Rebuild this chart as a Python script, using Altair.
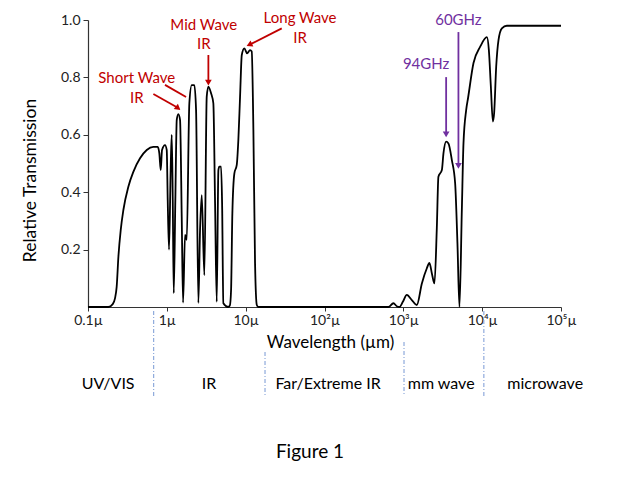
import altair as alt
import pandas as pd
import math

# ---- transmission curve (wavelength in µm, relative transmission) ----
wl = [0.1, 0.181, 0.206, 0.220, 0.231, 0.243, 0.260, 0.281, 0.325, 0.376, 0.457, 0.556,
      0.674, 0.767, 0.803, 0.837, 0.869, 0.948, 0.997, 1.026, 1.066, 1.120, 1.154, 1.189,
      1.224, 1.282, 1.336, 1.399, 1.471, 1.545, 1.606, 1.702, 1.789, 1.930, 2.070, 2.233,
      2.349, 2.512, 2.638, 2.773, 2.992, 3.207, 3.365, 3.640, 3.890, 4.091, 4.295, 4.508,
      4.634, 4.875, 5.023, 5.212, 5.98, 6.30, 6.53, 6.78, 7.19, 7.71, 8.07, 8.49, 8.93,
      9.62, 10.42, 11.37, 11.94, 12.53, 13.15, 13.84, 14.49,
      647, 748, 841, 892, 986, 1107, 1282, 1483, 1718, 1987, 2143, 2301, 2483, 2661, 2786,
      3081, 3228, 3491, 3734, 4126, 4541, 4860, 5152, 5523, 5794, 6266, 6637, 7762, 9441,
      11480, 12160, 12880, 13670, 14190, 15060, 16110, 17780, 20560, 100000]
tr = [0, 0, 0.01, 0.03, 0.07, 0.175, 0.268, 0.338, 0.419, 0.471, 0.518, 0.547,
      0.558, 0.558, 0.535, 0.477, 0.547, 0.564, 0.547, 0.373, 0.2, 0.488, 0.6, 0.373,
      0.048, 0.373, 0.652, 0.672, 0.652, 0.314, 0.015, 0.251, 0.234, 0.71, 0.773, 0.773,
      0.686, 0.014, 0.268, 0.39, 0.111, 0.733, 0.768, 0.745, 0.71, 0.362, 0.018, 0.477,
      0.489, 0.489, 0.362, 0.013, 0, 0.005, 0.059, 0.327, 0.466, 0.495, 0.58, 0.733, 0.878,
      0.901, 0.884, 0.895, 0.89, 0.617, 0.153, 0.007, 0,
      0, 0.013, 0.001, 0, 0.018, 0.042, 0.024, 0.007, 0.082, 0.135, 0.154, 0.117, 0.082, 0.278, 0.454,
      0.477, 0.535, 0.576, 0.57, 0.512, 0.431, 0.22, 0.0, 0.338, 0.57, 0.686, 0.73, 0.85, 0.907,
      0.94, 0.895, 0.77, 0.646, 0.676, 0.837, 0.93, 0.971, 0.98, 0.98]

# ---- axis ticks ----
x_tick_vals = [0.1, 1, 10, 100, 1000, 10000, 100000]
x_tick_text = ["0.1µ", "1µ", "10µ", "10²µ", "10³µ", "10⁴µ", "10⁵µ"]
y_tick_vals = [0.2, 0.4, 0.6, 0.8, 1.0]

# ---- annotations ----
ann_text = ["Short Wave", "IR", "Mid Wave", "IR", "Long Wave", "IR", "60GHz", "94GHz"]
ann_x = [0.415, 0.415, 2.94, 2.94, 49.0, 49.0, 5000, 1946]
ann_y = [0.799, 0.728, 0.983, 0.916, 1.007, 0.937, 1.0, 0.847]
ann_col = ["#C00000"] * 6 + ["#7030A0"] * 2

arr_x1 = [0.675, 0.948, 3.365, 28.7, 3491, 5000]
arr_y1 = [0.742, 0.774, 0.878, 0.971, 0.801, 0.958]
arr_x2 = [1.36, 1.754, 3.365, 11.4, 3491, 5000]
arr_y2 = [0.695, 0.732, 0.785, 0.915, 0.605, 0.495]
arr_head = [True, False, True, True, True, True]
arr_angle = [128, 120, 180, 245, 180, 180]
arr_col = ["#C00000"] * 4 + ["#7030A0"] * 2

band_names = ["UV/VIS", "IR", "Far/Extreme IR", "mm wave", "microwave"]
band_centers = [0.18, 3.43, 111, 3020, 63000]
band_bounds = [0.68, 17.6, 1020, 10500]
band_bound_top = [291, 332, 322, 291]

W, H = 473, 287
FONT = "Lato"

xscale = alt.Scale(type="log", domain=[0.1, 1e5], nice=False)
yscale = alt.Scale(domain=[0, 1], nice=False)

label_expr = ""
for v, t in zip(x_tick_vals, x_tick_text):
    label_expr += f"abs(log(datum.value)/log(10) - ({math.log10(v)})) < 0.01 ? '{t}' : "
label_expr += "''"

df = pd.DataFrame({"wl": wl, "tr": tr})

line = alt.Chart(df).mark_line(color="black", strokeWidth=1.8, interpolate="monotone", clip=False).encode(
    x=alt.X("wl:Q", scale=xscale, axis=alt.Axis(
        values=x_tick_vals, labelExpr=label_expr, title="Wavelength (µm)",
        titleFontSize=17, titleFont=FONT, titleFontWeight="normal", titleColor="black",
        titleX=242, titleY=35, titleBaseline="middle", titleAlign="center",
        labelFont=FONT, labelFontSize=14, labelColor="#222", labelPadding=2,
        tickSize=4, tickColor="#333", domainColor="#333", domainWidth=1.2, grid=False,
        labelFlush=False, labelOverlap=False)),
    y=alt.Y("tr:Q", scale=yscale, axis=alt.Axis(
        values=y_tick_vals, format=".1f", title="Relative Transmission",
        titleFontSize=17.5, titleFont=FONT, titleFontWeight="normal", titleColor="black",
        titleX=-58, titleY=160, titleAngle=270, titleBaseline="middle", titleAlign="center",
        labelFont=FONT, labelFontSize=14, labelColor="#222", labelPadding=3,
        tickSize=5, tickColor="#333", domainColor="#333", domainWidth=1.2, grid=False)),
)

ann_df = pd.DataFrame({"x": ann_x, "y": ann_y, "t": ann_text, "c": ann_col})
ann = alt.Chart(ann_df).mark_text(font=FONT, fontSize=15, baseline="middle", align="center").encode(
    x=alt.X("x:Q", scale=xscale), y=alt.Y("y:Q", scale=yscale),
    text="t:N", color=alt.Color("c:N", scale=None))

arr_df = pd.DataFrame({"x": arr_x1, "y": arr_y1, "x2": arr_x2, "y2": arr_y2,
                       "h": arr_head, "a": arr_angle, "c": arr_col})
arr_lines = alt.Chart(arr_df).mark_rule(strokeWidth=1.8).encode(
    x=alt.X("x:Q", scale=xscale), y=alt.Y("y:Q", scale=yscale),
    x2="x2:Q", y2="y2:Q", color=alt.Color("c:N", scale=None))
arr_heads = alt.Chart(arr_df).transform_filter("datum.h").mark_point(
    shape="triangle", filled=True, size=45, opacity=1).encode(
    x=alt.X("x2:Q", scale=xscale), y=alt.Y("y2:Q", scale=yscale),
    angle=alt.Angle("a:Q", scale=None), color=alt.Color("c:N", scale=None))

band_df = pd.DataFrame({"x": band_centers, "t": band_names})
bands = alt.Chart(band_df).mark_text(font=FONT, fontSize=16, baseline="middle", align="center",
                                     color="black").encode(
    x=alt.X("x:Q", scale=xscale), y=alt.value(364), text="t:N")

bound_df = pd.DataFrame({"x": band_bounds, "top": band_bound_top})
bounds = alt.Chart(bound_df).mark_rule(color="#8FAADC", strokeWidth=1.2, strokeDash=[4, 2, 1, 2]).encode(
    x=alt.X("x:Q", scale=xscale), y=alt.Y("top:Q", scale=None), y2=alt.value(376))

fig_df = pd.DataFrame({"t": ["Figure 1"]})
fig = alt.Chart(fig_df).mark_text(font=FONT, fontSize=19, baseline="middle", align="center",
                                  color="black").encode(
    x=alt.value(222), y=alt.value(432), text="t:N")

chart = alt.layer(line, bounds, bands, arr_lines, arr_heads, ann, fig).properties(
    width=W, height=H,
    autosize=alt.AutoSizeParams(type="none"),
    padding={"left": 88, "top": 20, "right": 69, "bottom": 182},
    background="white",
).configure_view(stroke=None)

chart.save("out.html", embed_options={"renderer": "svg", "actions": False})
